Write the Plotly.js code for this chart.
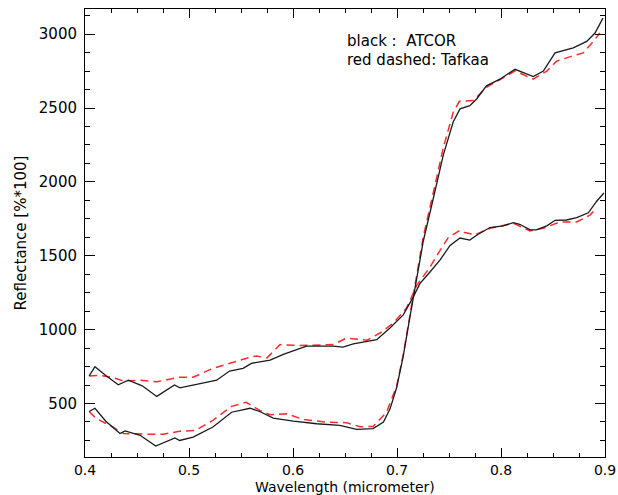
<!DOCTYPE html>
<html>
<head>
<meta charset="utf-8">
<script src="https://cdn.plot.ly/plotly-3.0.1.min.js"></script>
<style>html,body{margin:0;padding:0;background:#fff;}#chart{width:618px;height:495px;}</style>
</head>
<body>
<div id="chart"></div>
<script>
// Black (ATCOR) – curve starting near 700
const atcorA_x = [0.404, 0.4096, 0.420, 0.432, 0.4417, 0.455, 0.469, 0.486, 0.4913, 0.507, 0.5266, 0.539, 0.552, 0.560, 0.578, 0.5907, 0.600, 0.613, 0.6387, 0.648, 0.658, 0.6805, 0.693, 0.706, 0.7157, 0.722, 0.7317, 0.7413, 0.751, 0.7606, 0.770, 0.778, 0.7894, 0.802, 0.8118, 0.818, 0.828, 0.834, 0.844, 0.852, 0.863, 0.8728, 0.884, 0.892, 0.899];
const atcorA_y = [687, 749, 690, 627, 658, 620, 548, 625, 606, 631, 658, 720, 738, 772, 794, 832, 855, 888, 888, 882, 903, 932, 1010, 1100, 1222, 1311, 1390, 1470, 1570, 1620, 1606, 1646, 1691, 1702, 1724, 1713, 1675, 1675, 1702, 1740, 1742, 1758, 1791, 1869, 1925];
// Red dashed (Tafkaa) – curve starting near 700
const tafkaaA_x = [0.404, 0.415, 0.427, 0.437, 0.453, 0.469, 0.491, 0.504, 0.523, 0.546, 0.5596, 0.565, 0.575, 0.5875, 0.607, 0.6387, 0.6516, 0.671, 0.6836, 0.6964, 0.709, 0.719, 0.7317, 0.7413, 0.7494, 0.7606, 0.765, 0.775, 0.7894, 0.8118, 0.828, 0.8407, 0.8567, 0.8728, 0.8856, 0.889];
const tafkaaA_y = [687, 690, 675, 653, 658, 647, 678, 678, 738, 787, 815, 821, 809, 899, 892, 899, 943, 928, 977, 1044, 1144, 1300, 1423, 1535, 1624, 1673, 1657, 1642, 1686, 1720, 1668, 1686, 1729, 1729, 1775, 1800];
// Black (ATCOR) – vegetation curve
const atcorB_x = [0.404, 0.4096, 0.420, 0.4337, 0.4385, 0.453, 0.468, 0.4865, 0.491, 0.504, 0.523, 0.541, 0.5587, 0.568, 0.581, 0.6003, 0.6228, 0.645, 0.6612, 0.677, 0.687, 0.6933, 0.6997, 0.706, 0.7125, 0.719, 0.7253, 0.735, 0.7445, 0.754, 0.7606, 0.770, 0.7766, 0.786, 0.799, 0.8135, 0.831, 0.8407, 0.852, 0.8695, 0.8824, 0.8904, 0.898];
const atcorB_y = [446, 468, 380, 297, 314, 285, 212, 267, 250, 272, 341, 441, 468, 446, 401, 381, 363, 352, 325, 330, 374, 464, 608, 821, 1088, 1356, 1600, 1891, 2181, 2405, 2494, 2516, 2561, 2650, 2695, 2762, 2713, 2750, 2873, 2907, 2951, 3007, 3108];
// Red dashed (Tafkaa) – vegetation curve
const tafkaaB_x = [0.404, 0.411, 0.424, 0.437, 0.459, 0.475, 0.491, 0.506, 0.523, 0.541, 0.555, 0.568, 0.578, 0.594, 0.610, 0.632, 0.6516, 0.6644, 0.677, 0.690, 0.6997, 0.706, 0.7125, 0.719, 0.7253, 0.735, 0.7445, 0.754, 0.760, 0.7734, 0.786, 0.8135, 0.831, 0.844, 0.8535, 0.866, 0.879, 0.8888, 0.895];
const tafkaaB_y = [446, 397, 352, 297, 292, 292, 312, 317, 386, 481, 508, 453, 424, 430, 392, 374, 370, 343, 345, 441, 620, 830, 1100, 1370, 1630, 1930, 2230, 2470, 2545, 2550, 2640, 2751, 2695, 2750, 2817, 2846, 2873, 2951, 3007];

const xTicks = [0.4, 0.5, 0.6, 0.7, 0.8, 0.9];
const xTickText = ['0.4', '0.5', '0.6', '0.7', '0.8', '0.9'];
const yTicks = [500, 1000, 1500, 2000, 2500, 3000];
const yTickText = ['500', '1000', '1500', '2000', '2500', '3000'];
const legendLines = ['black :\u00a0\u00a0ATCOR', 'red dashed: Tafkaa'];
const xTitle = 'Wavelength (micrometer)';
const yTitle = 'Reflectance [%*100]';

const FONT = 'DejaVu Sans, sans-serif';
const blackLine = {color: '#1a1a1a', width: 1.3};
const redLine = {color: '#ff2a2a', width: 1.5, dash: '8px,5px'};

const traces = [
  {x: tafkaaA_x, y: tafkaaA_y, mode: 'lines', line: redLine, name: 'Tafkaa'},
  {x: tafkaaB_x, y: tafkaaB_y, mode: 'lines', line: redLine, name: 'Tafkaa'},
  {x: atcorA_x, y: atcorA_y, mode: 'lines', line: blackLine, name: 'ATCOR'},
  {x: atcorB_x, y: atcorB_y, mode: 'lines', line: blackLine, name: 'ATCOR'}
];

const axisCommon = {
  showline: true, linecolor: '#000', linewidth: 1, mirror: 'ticks',
  ticks: 'inside', tickcolor: '#000', tickwidth: 1,
  showgrid: false, zeroline: false, automargin: false,
  tickfont: {family: FONT, size: 15, color: '#000'}
};

const layout = {
  width: 618, height: 495,
  margin: {l: 85, r: 13, t: 9, b: 38},
  paper_bgcolor: '#fff', plot_bgcolor: '#fff',
  showlegend: false,
  font: {family: FONT, size: 15, color: '#000'},
  xaxis: Object.assign({}, axisCommon, {
    range: [0.4, 0.9], tickmode: 'array', tickvals: xTicks, ticktext: xTickText,
    ticklen: 9,
    tickfont: {family: FONT, size: 14, color: '#000'},
    minor: {ticks: 'inside', ticklen: 4, dtick: 0.025, tick0: 0.4, tickcolor: '#000', showgrid: false}
  }),
  yaxis: Object.assign({}, axisCommon, {
    range: [138, 3170], tickmode: 'array', tickvals: yTicks, ticktext: yTickText,
    ticklen: 10, ticklabelstandoff: 4,
    minor: {ticks: 'inside', ticklen: 5, dtick: 125, tick0: 0, tickcolor: '#000', showgrid: false},
    title: {text: yTitle, font: {family: FONT, size: 15, color: '#000'}, standoff: 8}
  }),
  annotations: [
    {xref: 'paper', yref: 'paper', x: 0.5, y: 0.929, xanchor: 'left', yanchor: 'middle', text: legendLines[0], showarrow: false, font: {family: FONT, size: 15, color: '#000'}},
    {xref: 'paper', yref: 'paper', x: 0.5, y: 0.886, xanchor: 'left', yanchor: 'middle', text: legendLines[1], showarrow: false, font: {family: FONT, size: 15, color: '#000'}},
    {xref: 'paper', yref: 'paper', x: 0.5, y: -0.067, xanchor: 'center', yanchor: 'middle', text: xTitle, showarrow: false, font: {family: FONT, size: 14, color: '#000'}}
  ]
};

Plotly.newPlot('chart', traces, layout, {staticPlot: true, displayModeBar: false});
</script>
</body>
</html>
